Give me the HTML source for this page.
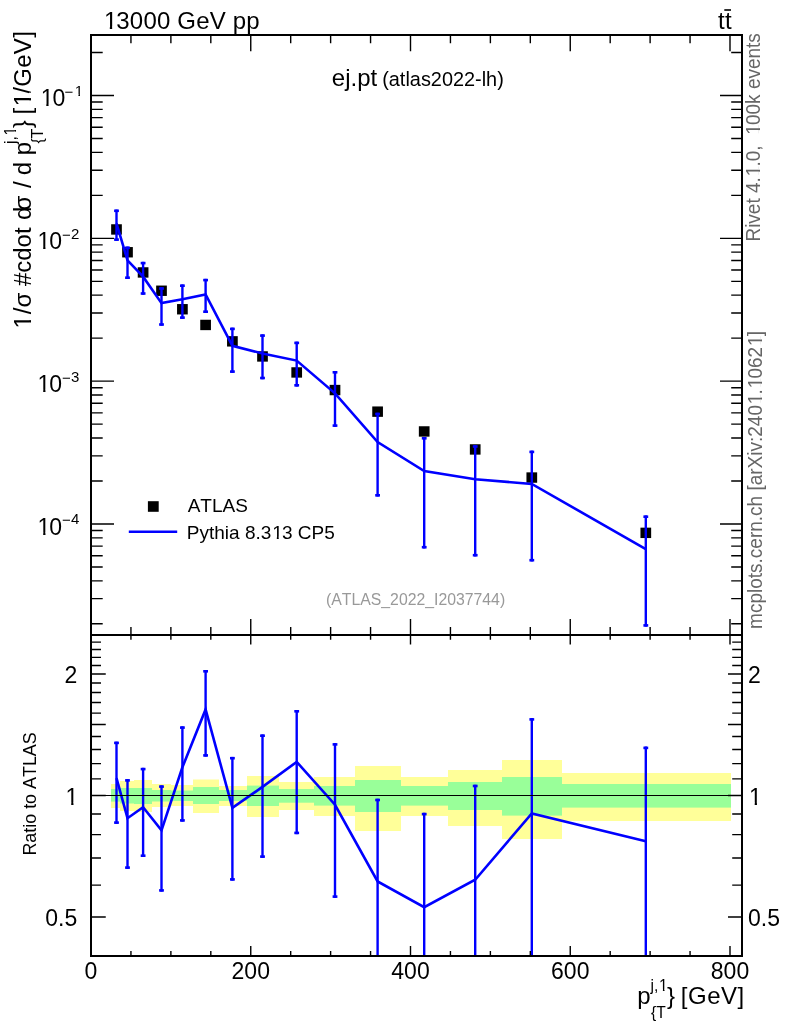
<!DOCTYPE html>
<html lang="en"><head><meta charset="utf-8"><title>ej.pt (atlas2022-lh)</title>
<style>html,body{margin:0;padding:0;background:#fff}svg{display:block}text{font-family:"Liberation Sans", sans-serif;font-kerning:none}</style></head><body>
<svg width="786" height="1024" viewBox="0 0 786 1024">
<rect x="0" y="0" width="786" height="1024" fill="#ffffff"/>
<defs><clipPath id="cr"><rect x="91" y="635" width="651" height="321"/></clipPath><clipPath id="cm"><rect x="91" y="35" width="651" height="600"/></clipPath></defs>
<g clip-path="url(#cr)">
<rect x="111.00" y="784.00" width="9.00" height="24.00" fill="#ffff99"/>
<rect x="120.00" y="781.00" width="14.00" height="30.00" fill="#ffff99"/>
<rect x="134.00" y="780.00" width="18.00" height="32.00" fill="#ffff99"/>
<rect x="152.00" y="784.00" width="19.00" height="23.00" fill="#ffff99"/>
<rect x="171.00" y="785.00" width="22.00" height="21.00" fill="#ffff99"/>
<rect x="193.00" y="779.50" width="26.00" height="33.50" fill="#ffff99"/>
<rect x="219.00" y="786.00" width="28.00" height="20.00" fill="#ffff99"/>
<rect x="247.00" y="776.00" width="32.00" height="41.00" fill="#ffff99"/>
<rect x="279.00" y="782.00" width="35.00" height="28.00" fill="#ffff99"/>
<rect x="314.00" y="777.00" width="41.00" height="39.00" fill="#ffff99"/>
<rect x="355.00" y="766.00" width="46.00" height="65.00" fill="#ffff99"/>
<rect x="401.00" y="777.00" width="47.00" height="39.00" fill="#ffff99"/>
<rect x="448.00" y="770.00" width="54.00" height="56.00" fill="#ffff99"/>
<rect x="502.00" y="760.00" width="60.00" height="79.00" fill="#ffff99"/>
<rect x="562.00" y="773.00" width="169.00" height="48.00" fill="#ffff99"/>
<rect x="111.00" y="789.00" width="9.00" height="12.60" fill="#99ff99"/>
<rect x="120.00" y="788.00" width="14.00" height="15.50" fill="#99ff99"/>
<rect x="134.00" y="788.00" width="18.00" height="16.00" fill="#99ff99"/>
<rect x="152.00" y="790.00" width="19.00" height="11.50" fill="#99ff99"/>
<rect x="171.00" y="790.50" width="22.00" height="10.50" fill="#99ff99"/>
<rect x="193.00" y="787.00" width="26.00" height="17.00" fill="#99ff99"/>
<rect x="219.00" y="790.00" width="28.00" height="11.00" fill="#99ff99"/>
<rect x="247.00" y="785.60" width="32.00" height="20.40" fill="#99ff99"/>
<rect x="279.00" y="789.00" width="35.00" height="13.70" fill="#99ff99"/>
<rect x="314.00" y="786.00" width="41.00" height="19.60" fill="#99ff99"/>
<rect x="355.00" y="780.00" width="46.00" height="32.00" fill="#99ff99"/>
<rect x="401.00" y="786.00" width="47.00" height="19.60" fill="#99ff99"/>
<rect x="448.00" y="782.00" width="54.00" height="28.00" fill="#99ff99"/>
<rect x="502.00" y="777.00" width="60.00" height="38.60" fill="#99ff99"/>
<rect x="562.00" y="784.00" width="169.00" height="23.60" fill="#99ff99"/>
<g stroke="#0000ff" stroke-width="2.4" fill="none">
<line x1="116.50" y1="741.60" x2="116.50" y2="823.90"/><rect x="114.10" y="741.60" width="4.80" height="2.60" fill="#0000ff" stroke="none"/><rect x="114.10" y="821.30" width="4.80" height="2.60" fill="#0000ff" stroke="none"/>
<line x1="127.50" y1="779.10" x2="127.50" y2="868.90"/><rect x="125.10" y="779.10" width="4.80" height="2.60" fill="#0000ff" stroke="none"/><rect x="125.10" y="866.30" width="4.80" height="2.60" fill="#0000ff" stroke="none"/>
<line x1="143.10" y1="767.80" x2="143.10" y2="857.00"/><rect x="140.70" y="767.80" width="4.80" height="2.60" fill="#0000ff" stroke="none"/><rect x="140.70" y="854.40" width="4.80" height="2.60" fill="#0000ff" stroke="none"/>
<line x1="161.50" y1="785.30" x2="161.50" y2="891.70"/><rect x="159.10" y="785.30" width="4.80" height="2.60" fill="#0000ff" stroke="none"/><rect x="159.10" y="889.10" width="4.80" height="2.60" fill="#0000ff" stroke="none"/>
<line x1="182.40" y1="726.30" x2="182.40" y2="821.70"/><rect x="180.00" y="726.30" width="4.80" height="2.60" fill="#0000ff" stroke="none"/><rect x="180.00" y="819.10" width="4.80" height="2.60" fill="#0000ff" stroke="none"/>
<line x1="205.60" y1="670.00" x2="205.60" y2="756.70"/><rect x="203.20" y="670.00" width="4.80" height="2.60" fill="#0000ff" stroke="none"/><rect x="203.20" y="754.10" width="4.80" height="2.60" fill="#0000ff" stroke="none"/>
<line x1="232.40" y1="756.90" x2="232.40" y2="880.70"/><rect x="230.00" y="756.90" width="4.80" height="2.60" fill="#0000ff" stroke="none"/><rect x="230.00" y="878.10" width="4.80" height="2.60" fill="#0000ff" stroke="none"/>
<line x1="262.50" y1="734.40" x2="262.50" y2="857.90"/><rect x="260.10" y="734.40" width="4.80" height="2.60" fill="#0000ff" stroke="none"/><rect x="260.10" y="855.30" width="4.80" height="2.60" fill="#0000ff" stroke="none"/>
<line x1="296.70" y1="710.00" x2="296.70" y2="834.20"/><rect x="294.30" y="710.00" width="4.80" height="2.60" fill="#0000ff" stroke="none"/><rect x="294.30" y="831.60" width="4.80" height="2.60" fill="#0000ff" stroke="none"/>
<line x1="335.00" y1="743.10" x2="335.00" y2="897.90"/><rect x="332.60" y="743.10" width="4.80" height="2.60" fill="#0000ff" stroke="none"/><rect x="332.60" y="895.30" width="4.80" height="2.60" fill="#0000ff" stroke="none"/>
<line x1="377.60" y1="798.70" x2="377.60" y2="1033.37"/><rect x="375.20" y="798.70" width="4.80" height="2.60" fill="#0000ff" stroke="none"/><rect x="375.20" y="1030.77" width="4.80" height="2.60" fill="#0000ff" stroke="none"/>
<line x1="424.20" y1="812.80" x2="424.20" y2="1124.08"/><rect x="421.80" y="812.80" width="4.80" height="2.60" fill="#0000ff" stroke="none"/><rect x="421.80" y="1121.48" width="4.80" height="2.60" fill="#0000ff" stroke="none"/>
<line x1="475.20" y1="784.70" x2="475.20" y2="1095.82"/><rect x="472.80" y="784.70" width="4.80" height="2.60" fill="#0000ff" stroke="none"/><rect x="472.80" y="1093.22" width="4.80" height="2.60" fill="#0000ff" stroke="none"/>
<line x1="531.80" y1="718.10" x2="531.80" y2="1030.55"/><rect x="529.40" y="718.10" width="4.80" height="2.60" fill="#0000ff" stroke="none"/><rect x="529.40" y="1027.95" width="4.80" height="2.60" fill="#0000ff" stroke="none"/>
<line x1="645.80" y1="746.60" x2="645.80" y2="1058.52"/><rect x="643.40" y="746.60" width="4.80" height="2.60" fill="#0000ff" stroke="none"/><rect x="643.40" y="1055.92" width="4.80" height="2.60" fill="#0000ff" stroke="none"/>
</g>
<polyline fill="none" stroke="#0000ff" stroke-width="2.6" stroke-linejoin="miter" points="116.50,778.20 127.50,818.20 143.10,807.30 161.50,830.40 182.40,767.30 205.60,709.40 232.40,807.90 262.50,786.90 296.70,761.90 335.00,804.75 377.60,881.50 424.20,907.25 475.20,879.75 531.80,813.50 645.80,841.30"/>
<line x1="91" y1="795.5" x2="742" y2="795.5" stroke="#000" stroke-width="1"/>
</g>
<g clip-path="url(#cm)">
<rect x="111.15" y="224.25" width="10.70" height="10.40" fill="#000"/>
<rect x="122.15" y="247.05" width="10.70" height="10.40" fill="#000"/>
<rect x="137.75" y="267.25" width="10.70" height="10.40" fill="#000"/>
<rect x="156.15" y="285.55" width="10.70" height="10.40" fill="#000"/>
<rect x="177.05" y="304.05" width="10.70" height="10.40" fill="#000"/>
<rect x="200.25" y="319.75" width="10.70" height="10.40" fill="#000"/>
<rect x="227.05" y="336.15" width="10.70" height="10.40" fill="#000"/>
<rect x="257.15" y="351.25" width="10.70" height="10.40" fill="#000"/>
<rect x="291.35" y="367.25" width="10.70" height="10.40" fill="#000"/>
<rect x="329.65" y="384.85" width="10.70" height="10.40" fill="#000"/>
<rect x="372.25" y="406.45" width="10.70" height="10.40" fill="#000"/>
<rect x="418.85" y="426.25" width="10.70" height="10.40" fill="#000"/>
<rect x="469.85" y="444.25" width="10.70" height="10.40" fill="#000"/>
<rect x="526.45" y="472.35" width="10.70" height="10.40" fill="#000"/>
<rect x="640.45" y="527.65" width="10.70" height="10.40" fill="#000"/>
<g stroke="#0000ff" stroke-width="2.4" fill="none">
<line x1="116.50" y1="209.50" x2="116.50" y2="240.90"/><rect x="114.10" y="209.50" width="4.80" height="2.60" fill="#0000ff" stroke="none"/><rect x="114.10" y="238.30" width="4.80" height="2.60" fill="#0000ff" stroke="none"/>
<line x1="127.50" y1="246.50" x2="127.50" y2="279.00"/><rect x="125.10" y="246.50" width="4.80" height="2.60" fill="#0000ff" stroke="none"/><rect x="125.10" y="276.40" width="4.80" height="2.60" fill="#0000ff" stroke="none"/>
<line x1="143.10" y1="261.80" x2="143.10" y2="294.80"/><rect x="140.70" y="261.80" width="4.80" height="2.60" fill="#0000ff" stroke="none"/><rect x="140.70" y="292.20" width="4.80" height="2.60" fill="#0000ff" stroke="none"/>
<line x1="161.50" y1="287.20" x2="161.50" y2="325.80"/><rect x="159.10" y="287.20" width="4.80" height="2.60" fill="#0000ff" stroke="none"/><rect x="159.10" y="323.20" width="4.80" height="2.60" fill="#0000ff" stroke="none"/>
<line x1="182.40" y1="284.40" x2="182.40" y2="318.90"/><rect x="180.00" y="284.40" width="4.80" height="2.60" fill="#0000ff" stroke="none"/><rect x="180.00" y="316.30" width="4.80" height="2.60" fill="#0000ff" stroke="none"/>
<line x1="205.60" y1="278.80" x2="205.60" y2="313.00"/><rect x="203.20" y="278.80" width="4.80" height="2.60" fill="#0000ff" stroke="none"/><rect x="203.20" y="310.40" width="4.80" height="2.60" fill="#0000ff" stroke="none"/>
<line x1="232.40" y1="327.60" x2="232.40" y2="372.90"/><rect x="230.00" y="327.60" width="4.80" height="2.60" fill="#0000ff" stroke="none"/><rect x="230.00" y="370.30" width="4.80" height="2.60" fill="#0000ff" stroke="none"/>
<line x1="262.50" y1="334.30" x2="262.50" y2="379.30"/><rect x="260.10" y="334.30" width="4.80" height="2.60" fill="#0000ff" stroke="none"/><rect x="260.10" y="376.70" width="4.80" height="2.60" fill="#0000ff" stroke="none"/>
<line x1="296.70" y1="341.60" x2="296.70" y2="386.60"/><rect x="294.30" y="341.60" width="4.80" height="2.60" fill="#0000ff" stroke="none"/><rect x="294.30" y="384.00" width="4.80" height="2.60" fill="#0000ff" stroke="none"/>
<line x1="335.00" y1="371.00" x2="335.00" y2="426.90"/><rect x="332.60" y="371.00" width="4.80" height="2.60" fill="#0000ff" stroke="none"/><rect x="332.60" y="424.30" width="4.80" height="2.60" fill="#0000ff" stroke="none"/>
<line x1="377.60" y1="412.70" x2="377.60" y2="496.60"/><rect x="375.20" y="412.70" width="4.80" height="2.60" fill="#0000ff" stroke="none"/><rect x="375.20" y="494.00" width="4.80" height="2.60" fill="#0000ff" stroke="none"/>
<line x1="424.20" y1="437.00" x2="424.20" y2="548.50"/><rect x="421.80" y="437.00" width="4.80" height="2.60" fill="#0000ff" stroke="none"/><rect x="421.80" y="545.90" width="4.80" height="2.60" fill="#0000ff" stroke="none"/>
<line x1="475.20" y1="445.20" x2="475.20" y2="556.50"/><rect x="472.80" y="445.20" width="4.80" height="2.60" fill="#0000ff" stroke="none"/><rect x="472.80" y="553.90" width="4.80" height="2.60" fill="#0000ff" stroke="none"/>
<line x1="531.80" y1="450.60" x2="531.80" y2="561.50"/><rect x="529.40" y="450.60" width="4.80" height="2.60" fill="#0000ff" stroke="none"/><rect x="529.40" y="558.90" width="4.80" height="2.60" fill="#0000ff" stroke="none"/>
<line x1="645.80" y1="515.40" x2="645.80" y2="626.70"/><rect x="643.40" y="515.40" width="4.80" height="2.60" fill="#0000ff" stroke="none"/><rect x="643.40" y="624.10" width="4.80" height="2.60" fill="#0000ff" stroke="none"/>
</g>
<polyline fill="none" stroke="#0000ff" stroke-width="2.6" stroke-linejoin="miter" points="116.50,223.36 127.50,260.32 143.10,276.66 161.50,303.13 182.40,299.30 205.60,294.51 232.40,345.77 262.50,353.44 296.70,360.59 335.00,393.36 377.60,442.12 424.20,471.03 475.20,479.30 531.80,483.95 645.80,549.09"/>
</g>
<path d="M91.00 623.82H102.70M742.00 623.82H731.20M91.00 598.67H102.70M742.00 598.67H731.20M91.00 580.83H102.70M742.00 580.83H731.20M91.00 566.99H102.70M742.00 566.99H731.20M91.00 555.68H102.70M742.00 555.68H731.20M91.00 546.11H102.70M742.00 546.11H731.20M91.00 537.83H102.70M742.00 537.83H731.20M91.00 530.53H102.70M742.00 530.53H731.20M91.00 523.99H114.00M742.00 523.99H720.00M91.00 480.99H102.70M742.00 480.99H731.20M91.00 455.84H102.70M742.00 455.84H731.20M91.00 438.00H102.70M742.00 438.00H731.20M91.00 424.16H102.70M742.00 424.16H731.20M91.00 412.85H102.70M742.00 412.85H731.20M91.00 403.28H102.70M742.00 403.28H731.20M91.00 395.00H102.70M742.00 395.00H731.20M91.00 387.70H102.70M742.00 387.70H731.20M91.00 381.16H114.00M742.00 381.16H720.00M91.00 338.16H102.70M742.00 338.16H731.20M91.00 313.01H102.70M742.00 313.01H731.20M91.00 295.17H102.70M742.00 295.17H731.20M91.00 281.33H102.70M742.00 281.33H731.20M91.00 270.02H102.70M742.00 270.02H731.20M91.00 260.45H102.70M742.00 260.45H731.20M91.00 252.17H102.70M742.00 252.17H731.20M91.00 244.87H102.70M742.00 244.87H731.20M91.00 238.33H114.00M742.00 238.33H720.00M91.00 195.33H102.70M742.00 195.33H731.20M91.00 170.18H102.70M742.00 170.18H731.20M91.00 152.34H102.70M742.00 152.34H731.20M91.00 138.50H102.70M742.00 138.50H731.20M91.00 127.19H102.70M742.00 127.19H731.20M91.00 117.62H102.70M742.00 117.62H731.20M91.00 109.34H102.70M742.00 109.34H731.20M91.00 102.04H102.70M742.00 102.04H731.20M91.00 95.50H114.00M742.00 95.50H720.00M91.00 52.50H102.70M742.00 52.50H731.20M91.00 917.05H105.75M742.00 917.05H728.00M91.00 885.09H101.00M742.00 885.09H732.20M91.00 858.07H101.00M742.00 858.07H732.20M91.00 834.66H101.00M742.00 834.66H732.20M91.00 814.02H101.00M742.00 814.02H732.20M91.00 795.55H105.75M742.00 795.55H728.00M91.00 778.84H101.00M742.00 778.84H732.20M91.00 763.59H101.00M742.00 763.59H732.20M91.00 749.56H101.00M742.00 749.56H732.20M91.00 736.57H101.00M742.00 736.57H732.20M91.00 724.48H105.75M742.00 724.48H728.00M91.00 713.16H101.00M742.00 713.16H732.20M91.00 702.54H101.00M742.00 702.54H732.20M91.00 692.52H101.00M742.00 692.52H732.20M91.00 683.04H101.00M742.00 683.04H732.20M91.00 674.05H105.75M742.00 674.05H728.00M91.00 665.50H101.00M742.00 665.50H732.20M91.00 657.34H101.00M742.00 657.34H732.20M91.00 649.55H101.00M742.00 649.55H732.20M91.00 642.09H101.00M742.00 642.09H732.20M130.94 35.00V43.30M130.94 635.00V627.00M130.94 635.00V639.80M130.94 956.00V951.00M170.88 35.00V43.30M170.88 635.00V627.00M170.88 635.00V639.80M170.88 956.00V951.00M210.81 35.00V43.30M210.81 635.00V627.00M210.81 635.00V639.80M210.81 956.00V951.00M250.75 35.00V51.30M250.75 635.00V619.00M250.75 635.00V644.50M250.75 956.00V946.00M290.69 35.00V43.30M290.69 635.00V627.00M290.69 635.00V639.80M290.69 956.00V951.00M330.62 35.00V43.30M330.62 635.00V627.00M330.62 635.00V639.80M330.62 956.00V951.00M370.56 35.00V43.30M370.56 635.00V627.00M370.56 635.00V639.80M370.56 956.00V951.00M410.50 35.00V51.30M410.50 635.00V619.00M410.50 635.00V644.50M410.50 956.00V946.00M450.44 35.00V43.30M450.44 635.00V627.00M450.44 635.00V639.80M450.44 956.00V951.00M490.38 35.00V43.30M490.38 635.00V627.00M490.38 635.00V639.80M490.38 956.00V951.00M530.31 35.00V43.30M530.31 635.00V627.00M530.31 635.00V639.80M530.31 956.00V951.00M570.25 35.00V51.30M570.25 635.00V619.00M570.25 635.00V644.50M570.25 956.00V946.00M610.19 35.00V43.30M610.19 635.00V627.00M610.19 635.00V639.80M610.19 956.00V951.00M650.12 35.00V43.30M650.12 635.00V627.00M650.12 635.00V639.80M650.12 956.00V951.00M690.06 35.00V43.30M690.06 635.00V627.00M690.06 635.00V639.80M690.06 956.00V951.00M730.00 35.00V51.30M730.00 635.00V619.00M730.00 635.00V644.50M730.00 956.00V946.00" stroke="#000" stroke-width="1.4" fill="none"/>
<g stroke="#000" stroke-width="2" fill="none" stroke-linecap="square">
<rect x="91" y="35" width="651" height="921"/>
<line x1="91" y1="635" x2="742" y2="635"/>
</g>
<text x="102.80" y="28.90" font-size="24px" text-anchor="start" fill="#000" letter-spacing="0.17" dx="1.08 -1.08 0.00 0.00 0.00 0.00 0.00 0.00 0.00 0.00 0.00 0.00">13000 GeV pp</text>
<rect x="104.60" y="26.56" width="5.20" height="2.89" fill="#fff"/>
<rect x="112.16" y="26.56" width="5.40" height="2.89" fill="#fff"/>
<text x="718.00" y="29.00" font-size="24px" text-anchor="start" fill="#000" letter-spacing="0.23">tt</text>
<rect x="724.3" y="9.2" width="6.7" height="1.6" fill="#000"/>
<text x="331.80" y="85.50" font-size="24px" text-anchor="start" fill="#000">ej.pt</text>
<text x="382.20" y="85.50" font-size="19.9px" text-anchor="start" fill="#000">(atlas2022-lh)</text>
<rect x="147.9" y="501.2" width="10.8" height="10.6" fill="#000"/>
<text x="187.70" y="512.00" font-size="19px" text-anchor="start" fill="#000">ATLAS</text>
<line x1="128.8" y1="531.8" x2="177.2" y2="531.8" stroke="#0000ff" stroke-width="2.6"/>
<text x="186.80" y="538.60" font-size="19px" text-anchor="start" fill="#000" dx="0.00 0.00 0.00 0.00 0.00 0.00 0.00 0.00 0.00 0.00 0.85 -0.85 0.00 0.00 0.00 0.00">Pythia 8.313 CP5</text>
<rect x="272.72" y="536.63" width="4.09" height="2.52" fill="#fff"/>
<rect x="278.73" y="536.63" width="4.25" height="2.52" fill="#fff"/>
<text x="326.00" y="604.60" font-size="15.8px" text-anchor="start" fill="#999999">(ATLAS_2022_I2037744)</text>
<text x="91.00" y="978.60" font-size="23px" text-anchor="middle" fill="#000">0</text>
<text x="250.75" y="978.60" font-size="23px" text-anchor="middle" fill="#000">200</text>
<text x="410.50" y="978.60" font-size="23px" text-anchor="middle" fill="#000">400</text>
<text x="570.25" y="978.60" font-size="23px" text-anchor="middle" fill="#000">600</text>
<text x="730.00" y="978.60" font-size="23px" text-anchor="middle" fill="#000">800</text>
<text fill="#000"><tspan x="39.60" y="106.30" font-size="23px" dx="1.03 -1.03">10</tspan><tspan x="64.50" y="97.00" font-size="15px">−</tspan><tspan x="74.10" y="96.00" font-size="15px" dx="0.67">1</tspan></text>
<rect x="41.32" y="104.03" width="4.97" height="2.82" fill="#fff"/>
<rect x="48.57" y="104.03" width="5.17" height="2.82" fill="#fff"/>
<rect x="75.22" y="94.33" width="3.20" height="2.22" fill="#fff"/>
<rect x="79.99" y="94.33" width="3.33" height="2.22" fill="#fff"/>
<text fill="#000"><tspan x="36.50" y="249.13" font-size="23px" dx="1.03 -1.03">10</tspan><tspan x="62.00" y="239.83" font-size="15px">−</tspan><tspan x="71.10" y="238.83" font-size="15px">2</tspan></text>
<rect x="38.22" y="246.86" width="4.97" height="2.82" fill="#fff"/>
<rect x="45.47" y="246.86" width="5.17" height="2.82" fill="#fff"/>
<text fill="#000"><tspan x="36.50" y="391.96" font-size="23px" dx="1.03 -1.03">10</tspan><tspan x="62.00" y="382.66" font-size="15px">−</tspan><tspan x="71.10" y="381.66" font-size="15px">3</tspan></text>
<rect x="38.22" y="389.69" width="4.97" height="2.82" fill="#fff"/>
<rect x="45.47" y="389.69" width="5.17" height="2.82" fill="#fff"/>
<text fill="#000"><tspan x="36.50" y="534.79" font-size="23px" dx="1.03 -1.03">10</tspan><tspan x="62.00" y="525.49" font-size="15px">−</tspan><tspan x="71.10" y="524.49" font-size="15px">4</tspan></text>
<rect x="38.22" y="532.52" width="4.97" height="2.82" fill="#fff"/>
<rect x="45.47" y="532.52" width="5.17" height="2.82" fill="#fff"/>
<text x="77.30" y="683.35" font-size="23px" text-anchor="end" fill="#000">2</text>
<text x="748.00" y="683.35" font-size="23px" text-anchor="start" fill="#000">2</text>
<text x="64.51" y="804.85" font-size="23px" text-anchor="start" fill="#000" dx="1.03">1</text>
<rect x="66.23" y="802.58" width="4.97" height="2.82" fill="#fff"/>
<rect x="73.48" y="802.58" width="5.17" height="2.82" fill="#fff"/>
<text x="748.00" y="804.85" font-size="23px" text-anchor="start" fill="#000" dx="1.03">1</text>
<rect x="749.73" y="802.58" width="4.97" height="2.82" fill="#fff"/>
<rect x="756.97" y="802.58" width="5.17" height="2.82" fill="#fff"/>
<text x="77.30" y="926.35" font-size="23px" text-anchor="end" fill="#000">0.5</text>
<text x="748.00" y="926.35" font-size="23px" text-anchor="start" fill="#000">0.5</text>
<text fill="#000"><tspan x="637.20" y="1003.50" font-size="24px">p</tspan><tspan x="650.60" y="990.60" font-size="15.6px" dx="0.00 0.00 0.70">j,1</tspan><tspan x="651.00" y="1017.60" font-size="15.6px">{T</tspan><tspan x="667.00" y="1003.50" font-size="24px">} </tspan><tspan x="680.80" y="1003.50" font-size="24px" letter-spacing="0.5">[GeV]</tspan></text>
<rect x="659.57" y="988.88" width="3.34" height="2.27" fill="#fff"/>
<rect x="664.52" y="988.88" width="3.47" height="2.27" fill="#fff"/>
<g transform="translate(31.4 327.5) rotate(-90) scale(0.9796 1)">
<text fill="#000"><tspan x="-2.04" y="0.00" font-size="24.5px" dx="1.10">1</tspan><tspan x="13.62" y="0.00" font-size="24.5px">/σ </tspan><tspan x="42.26" y="0.00" font-size="24.5px">#cdot </tspan><tspan x="109.74" y="0.00" font-size="24.5px">d</tspan><tspan x="119.54" y="0.00" font-size="24.5px">σ </tspan><tspan x="142.41" y="0.00" font-size="24.5px">/ </tspan><tspan x="155.47" y="0.00" font-size="24.5px">d </tspan><tspan x="175.84" y="0.00" font-size="24.5px">p</tspan><tspan x="187.43" y="-15.75" font-size="15.9px" dx="0.00 0.00 0.72">j,1</tspan><tspan x="187.94" y="11.70" font-size="15.9px">{T</tspan><tspan x="203.30" y="0.00" font-size="24.5px">} </tspan><tspan x="217.54" y="0.00" font-size="24.5px" letter-spacing="0.30625" dx="0.00 1.10 -1.10 0.00 0.00 0.00 0.00">[1/GeV]</tspan></text>
<rect x="-0.20" y="-2.38" width="5.31" height="2.93" fill="#fff"/>
<rect x="7.51" y="-2.38" width="5.52" height="2.93" fill="#fff"/>
<rect x="196.57" y="-17.49" width="3.40" height="2.29" fill="#fff"/>
<rect x="201.61" y="-17.49" width="3.54" height="2.29" fill="#fff"/>
<rect x="226.49" y="-2.38" width="5.31" height="2.93" fill="#fff"/>
<rect x="234.20" y="-2.38" width="5.52" height="2.93" fill="#fff"/>
</g>
<g transform="translate(36.3 855.6) rotate(-90) scale(0.96 1)">
<text x="0.00" y="0.00" font-size="18.65px" text-anchor="start" fill="#000">Ratio to ATLAS</text>
</g>
<g transform="translate(760.2 241.6) rotate(-90) scale(0.9645 1)">
<text fill="#666666"><tspan x="0.00" y="0.00" font-size="19.7px" dx="0.00 0.00 0.00 0.00 0.00 0.00 0.00 0.00 0.89 -0.89 0.00 0.00 0.00">Rivet 4.1.0, </tspan><tspan x="109.91" y="0.00" font-size="19.7px" dx="0.89 -0.89 0.00 0.00 0.00 0.00 0.00 0.00 0.00 0.00 0.00">100k events</tspan></text>
<rect x="68.26" y="-2.02" width="4.24" height="2.57" fill="#fff"/>
<rect x="74.49" y="-2.02" width="4.41" height="2.57" fill="#fff"/>
<rect x="111.38" y="-2.02" width="4.24" height="2.57" fill="#fff"/>
<rect x="117.61" y="-2.02" width="4.41" height="2.57" fill="#fff"/>
</g>
<g transform="translate(762.2 628.9) rotate(-90) scale(0.9645 1)">
<text x="0.00" y="0.00" font-size="19.7px" text-anchor="start" fill="#666666" dx="0.00 0.00 0.00 0.00 0.00 0.00 0.00 0.00 0.00 0.00 0.00 0.00 0.00 0.00 0.00 0.00 0.00 0.00 0.00 0.00 0.00 0.00 0.00 0.00 0.00 0.00 0.89 -0.89 0.89 -0.89 0.00 0.00 0.89 -0.89">mcplots.cern.ch [arXiv:2401.10621]</text>
<rect x="233.60" y="-2.02" width="4.24" height="2.57" fill="#fff"/>
<rect x="239.82" y="-2.02" width="4.41" height="2.57" fill="#fff"/>
<rect x="250.03" y="-2.02" width="4.24" height="2.57" fill="#fff"/>
<rect x="256.25" y="-2.02" width="4.41" height="2.57" fill="#fff"/>
<rect x="293.85" y="-2.02" width="4.24" height="2.57" fill="#fff"/>
<rect x="300.07" y="-2.02" width="4.41" height="2.57" fill="#fff"/>
</g>
</svg></body></html>
